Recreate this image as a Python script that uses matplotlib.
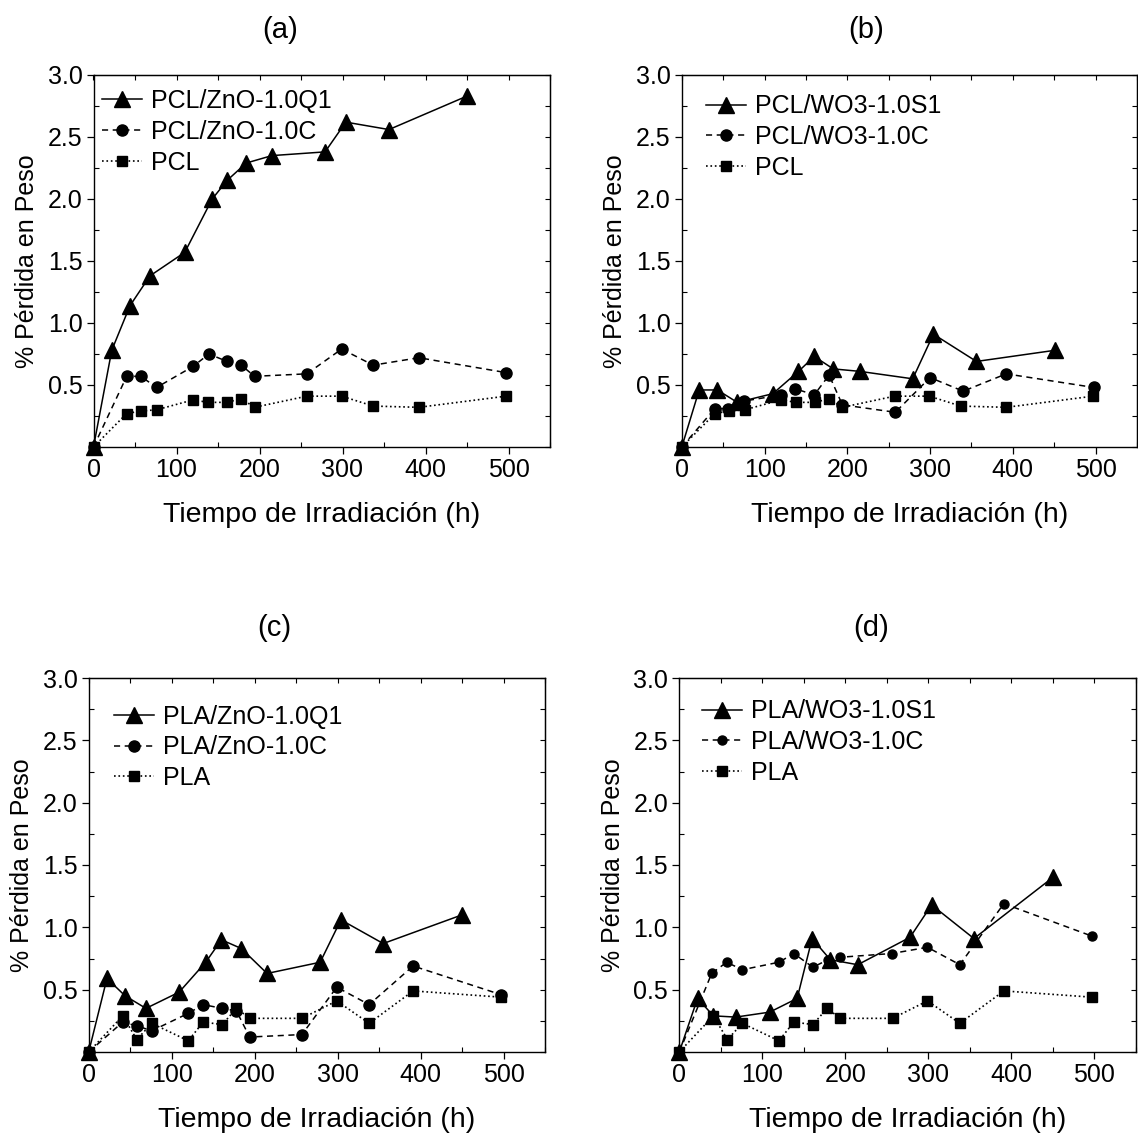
import matplotlib
matplotlib.use("Agg")
import matplotlib.pyplot as plt
from matplotlib.ticker import MultipleLocator, FormatStrFormatter

plt.rcParams['font.family'] = ['Liberation Sans', 'DejaVu Sans']

# ---- data ----
# (a) PCL / ZnO
t_a_q1 = [0, 22, 44, 68, 110, 143, 161, 184, 215, 279, 304, 356, 450]
a_q1 = [0, 0.78, 1.14, 1.38, 1.57, 2.00, 2.15, 2.29, 2.35, 2.38, 2.62, 2.56, 2.83]
t_a_c = [0, 40, 57, 76, 120, 139, 161, 178, 194, 257, 299, 337, 392, 497]
a_c = [0, 0.57, 0.57, 0.48, 0.65, 0.75, 0.69, 0.66, 0.57, 0.59, 0.79, 0.66, 0.72, 0.60]
t_pcl = [0, 40, 57, 76, 120, 138, 161, 178, 194, 257, 299, 337, 392, 497]
pcl = [0, 0.27, 0.29, 0.30, 0.38, 0.36, 0.36, 0.39, 0.32, 0.41, 0.41, 0.33, 0.32, 0.41]

# (b) PCL / WO3
t_b_s1 = [0, 21, 43, 67, 110, 141, 160, 183, 215, 279, 304, 356, 451]
b_s1 = [0, 0.46, 0.46, 0.36, 0.43, 0.61, 0.73, 0.63, 0.61, 0.55, 0.91, 0.69, 0.78]
t_b_c = [0, 40, 56, 75, 120, 137, 160, 178, 194, 258, 300, 340, 392, 498]
b_c = [0, 0.31, 0.31, 0.37, 0.42, 0.47, 0.42, 0.58, 0.34, 0.28, 0.56, 0.45, 0.59, 0.48]

# (c) PLA / ZnO
t_c_q1 = [0, 22, 44, 69, 109, 141, 160, 184, 215, 279, 304, 355, 450]
c_q1 = [0, 0.59, 0.45, 0.35, 0.48, 0.72, 0.90, 0.83, 0.63, 0.72, 1.06, 0.87, 1.10]
t_c_c = [0, 41, 58, 76, 120, 138, 161, 178, 194, 257, 299, 338, 391, 497]
c_c = [0, 0.24, 0.21, 0.17, 0.31, 0.38, 0.35, 0.33, 0.12, 0.14, 0.52, 0.38, 0.69, 0.46]
t_pla = [0, 41, 58, 76, 120, 138, 161, 178, 194, 257, 299, 338, 391, 497]
pla = [0, 0.29, 0.10, 0.23, 0.09, 0.24, 0.22, 0.35, 0.27, 0.27, 0.41, 0.23, 0.49, 0.44]

# (d) PLA / WO3
t_d_s1 = [0, 22, 41, 68, 109, 142, 160, 182, 215, 278, 304, 355, 450]
d_s1 = [0, 0.43, 0.29, 0.28, 0.32, 0.43, 0.91, 0.74, 0.70, 0.92, 1.18, 0.91, 1.40]
t_d_c = [0, 39, 57, 76, 120, 138, 161, 179, 194, 256, 299, 338, 391, 497]
d_c = [0, 0.63, 0.72, 0.66, 0.72, 0.79, 0.68, 0.74, 0.76, 0.79, 0.84, 0.70, 1.19, 0.93]

W, H = 1138, 1136
fig = plt.figure(figsize=(W / 100, H / 100), dpi=100)


def px_axes(left, right, top, bottom):
    # pixel box -> figure fraction
    return fig.add_axes([left / W, 1 - bottom / H, (right - left) / W, (bottom - top) / H])


def style_axes(ax):
    ax.set_xlim(0, 550)
    ax.set_ylim(0, 3.0)
    ax.xaxis.set_major_locator(MultipleLocator(100))
    ax.xaxis.set_minor_locator(MultipleLocator(50))
    ax.set_yticks([0.5, 1.0, 1.5, 2.0, 2.5, 3.0])
    ax.yaxis.set_minor_locator(MultipleLocator(0.25))
    ax.yaxis.set_major_formatter(FormatStrFormatter('%.1f'))
    ax.tick_params(which='major', direction='out', length=5, width=0.9, labelsize=18, pad=3)
    ax.tick_params(which='minor', direction='in', length=3.5, width=0.8)
    for s in ax.spines.values():
        s.set_linewidth(1.0)
    # inward ticks on top and right
    top = ax.secondary_xaxis('top')
    top.xaxis.set_major_locator(MultipleLocator(50))
    top.tick_params(direction='in', length=3.5, width=0.8, labeltop=False)
    right = ax.secondary_yaxis('right')
    right.yaxis.set_major_locator(MultipleLocator(0.25))
    right.tick_params(direction='in', length=3.5, width=0.8, labelright=False)
    ax.set_xlabel('Tiempo de Irradiación (h)', fontsize=20.5, labelpad=14)
    ax.set_ylabel('% Pérdida en Peso', fontsize=18, labelpad=6)


def draw(ax, series, leg_anchor, circ_ms=8):
    (t1, y1, l1), (t2, y2, l2), (t3, y3, l3) = series
    ax.plot(t1, y1, '-', color='black', lw=1.1, marker='^', ms=11, label=l1, clip_on=False)
    ax.plot(t2, y2, '--', color='black', lw=1.1, marker='o', ms=circ_ms, label=l2,
            dashes=(4, 3), clip_on=False)
    ax.plot(t3, y3, ':', color='black', lw=1.2, marker='s', ms=7, label=l3, clip_on=False)
    ax.legend(loc='upper left', bbox_to_anchor=leg_anchor, frameon=False, fontsize=18,
              handlelength=1.6, handletextpad=0.35, labelspacing=0.27, borderpad=0,
              borderaxespad=0)
    style_axes(ax)


ax_a = px_axes(93.5, 550, 75, 447)
draw(ax_a, [(t_a_q1, a_q1, 'PCL/ZnO-1.0Q1'),
            (t_a_c, a_c, 'PCL/ZnO-1.0C'),
            (t_pcl, pcl, 'PCL')], (0.019, 0.962))

ax_b = px_axes(681.8, 1137, 75, 447)
draw(ax_b, [(t_b_s1, b_s1, 'PCL/WO3-1.0S1'),
            (t_b_c, b_c, 'PCL/WO3-1.0C'),
            (t_pcl, pcl, 'PCL')], (0.053, 0.948))

ax_c = px_axes(88.7, 545, 678, 1052)
draw(ax_c, [(t_c_q1, c_q1, 'PLA/ZnO-1.0Q1'),
            (t_c_c, c_c, 'PLA/ZnO-1.0C'),
            (t_pla, pla, 'PLA')], (0.055, 0.929))

ax_d = px_axes(679.3, 1135.8, 678, 1052)
draw(ax_d, [(t_d_s1, d_s1, 'PLA/WO3-1.0S1'),
            (t_d_c, d_c, 'PLA/WO3-1.0C'),
            (t_pla, pla, 'PLA')], (0.05, 0.943), circ_ms=6.5)

for x, y, s in [(280, 30, '(a)'), (866, 30, '(b)'), (274, 628, '(c)'), (871, 628, '(d)')]:
    fig.text(x / W, 1 - y / H, s, fontsize=21, ha='center', va='center')

fig.savefig('out.png', dpi=100)
